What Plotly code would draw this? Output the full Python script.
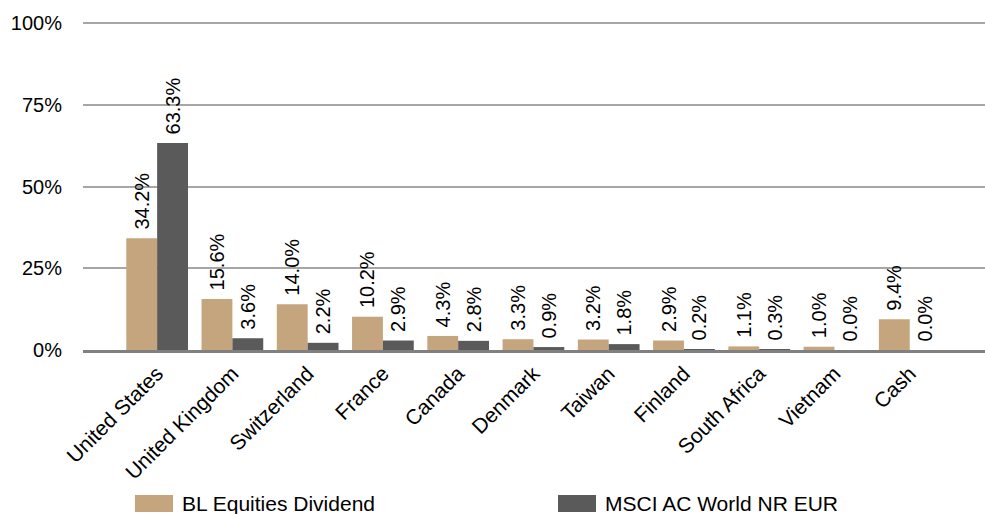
import plotly.graph_objects as go

categories = ["United States", "United Kingdom", "Switzerland", "France", "Canada",
              "Denmark", "Taiwan", "Finland", "South Africa", "Vietnam", "Cash"]
bl_values = [34.2, 15.6, 14.0, 10.2, 4.3, 3.3, 3.2, 2.9, 1.1, 1.0, 9.4]
msci_values = [63.3, 3.6, 2.2, 2.9, 2.8, 0.9, 1.8, 0.2, 0.3, 0.0, 0.0]
series_names = ["BL Equities Dividend", "MSCI AC World NR EUR"]
y_ticks = [0, 25, 50, 75, 100]
y_ticklabels = ["0%", "25%", "50%", "75%", "100%"]

TAN = "#C4A57D"
DARK = "#5A5A5A"
FONT = "Liberation Sans, Arial, sans-serif"

W, H = 985, 514
ML, MR, MT, MB = 83, 0, 16, 164
PW, PH = W - ML - MR, H - MT - MB
YMAX = 100 * PH / 327.0


def lab(v):
    return "\u00a0" + f"{v:.1f}%"


fig = go.Figure()
for name, vals, col in [(series_names[0], bl_values, TAN), (series_names[1], msci_values, DARK)]:
    fig.add_trace(go.Bar(
        x=categories, y=vals, name=name, marker=dict(color=col, line=dict(width=0)),
        text=[lab(v) for v in vals], textposition="outside", textangle=-90,
        constraintext="none",
        textfont=dict(family=FONT, size=20, color="#000000"),
        cliponaxis=False, showlegend=False,
    ))


def px2x(p):
    return (p - ML) / PW


def py2y(p):
    return (H - MB - p) / PH


shapes = []
annotations = []
legend_items = [(series_names[0], TAN, 135), (series_names[1], DARK, 558)]
for name, col, x0 in legend_items:
    shapes.append(dict(type="rect", xref="paper", yref="paper",
                       x0=px2x(x0), x1=px2x(x0 + 38), y0=py2y(512), y1=py2y(495),
                       fillcolor=col, line=dict(width=0)))
    annotations.append(dict(xref="paper", yref="paper", x=px2x(x0 + 45), y=py2y(503.5),
                            text=name, showarrow=False, xanchor="left", yanchor="middle",
                            font=dict(family=FONT, size=21, color="#000000")))

fig.update_layout(
    width=W, height=H,
    margin=dict(l=ML, r=MR, t=MT, b=MB, pad=0),
    paper_bgcolor="white", plot_bgcolor="white",
    barmode="group", bargap=0.18, bargroupgap=0.0,
    shapes=shapes, annotations=annotations,
    xaxis=dict(
        type="category", range=[-0.985, 11.0], tickangle=-45,
        tickfont=dict(family=FONT, size=21, color="#000000"),
        showgrid=False, showline=True, linecolor="#808080", linewidth=3,
        ticks="", fixedrange=True,
    ),
    yaxis=dict(
        range=[0, YMAX], tickvals=y_ticks, ticktext=y_ticklabels,
        tickfont=dict(family=FONT, size=20, color="#000000"),
        showgrid=True, gridcolor="#A6A6A6", gridwidth=2,
        zeroline=False, showline=False, ticks="", ticklabelstandoff=20,
    ),
)

fig.write_html("out.html")
